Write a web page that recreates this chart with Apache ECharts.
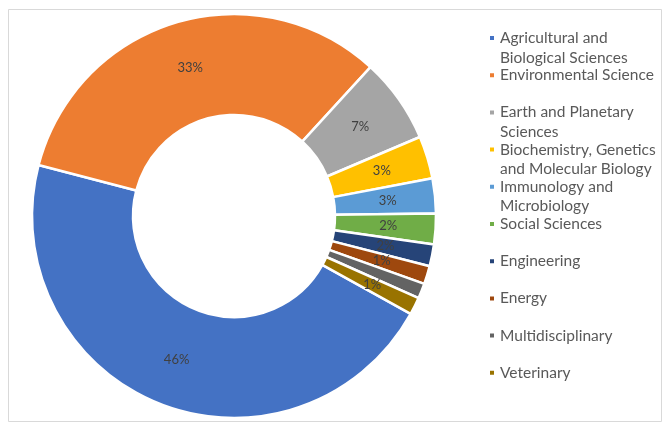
<!DOCTYPE html>
<html>
<head>
<meta charset="utf-8">
<script src="https://cdn.jsdelivr.net/npm/echarts@6/dist/echarts.min.js"></script>
<style>
  html, body { margin: 0; padding: 0; background: #ffffff; }
  #chart { width: 665px; height: 423px; }
</style>
</head>
<body>
<div id="chart"></div>
<script>
// Subject areas and their share of documents (%)
const categories = [
  'Agricultural and Biological Sciences',
  'Environmental Science',
  'Earth and Planetary Sciences',
  'Biochemistry, Genetics and Molecular Biology',
  'Immunology and Microbiology',
  'Social Sciences',
  'Engineering',
  'Energy',
  'Multidisciplinary',
  'Veterinary'
];
const shares = [46.0, 32.75, 6.8, 3.4, 2.8, 2.45, 1.75, 1.45, 1.2, 1.4];

// Legend text, broken into lines the way the legend shows it
const legendLines = [
  ['Agricultural and', 'Biological Sciences'],
  ['Environmental Science'],
  ['Earth and Planetary', 'Sciences'],
  ['Biochemistry, Genetics', 'and Molecular Biology'],
  ['Immunology and', 'Microbiology'],
  ['Social Sciences'],
  ['Engineering'],
  ['Energy'],
  ['Multidisciplinary'],
  ['Veterinary']
];

const palette = ['#4472C4', '#ED7D31', '#A5A5A5', '#FFC000', '#5B9BD5',
                 '#70AD47', '#264478', '#9E480E', '#636363', '#997300'];

const FONT = 'Lato, "Open Sans", sans-serif';
const LINE_H = 19.5;
const LEGEND_FIRST = 38;    // centre of first legend row
const LEGEND_STEP = 37.2;   // distance between legend rows

// One legend block per entry so every row sits on a fixed grid.
// Text is laid out as [blank, line1, line2] so the marker lines up with line1.
const legends = categories.map((name, i) => ({
  data: [name],
  orient: 'vertical',
  left: 488,
  top: LEGEND_FIRST + i * LEGEND_STEP - 1.5 * LINE_H,
  padding: 0,
  icon: 'rect',
  itemWidth: 6,
  itemHeight: 6,
  selectedMode: false,
  formatter: () => '\n' + legendLines[i][0] + '\n' + (legendLines[i][1] || ''),
  textStyle: {
    fontFamily: FONT,
    fontSize: 15.5,
    lineHeight: LINE_H,
    color: '#595959'
  }
}));

const chart = echarts.init(document.getElementById('chart'), null, { renderer: 'canvas' });

chart.setOption({
  animation: false,
  color: palette,
  backgroundColor: '#ffffff',
  graphic: [{
    type: 'rect',
    shape: { x: 8.5, y: 9.5, width: 653, height: 412 },
    style: { fill: 'none', stroke: '#d9d9d9', lineWidth: 1 },
    silent: true,
    z: -10
  }],
  legend: legends,
  series: [{
    type: 'pie',
    center: [234, 216],
    radius: [101, 202],
    startAngle: -29,
    clockwise: true,
    avoidLabelOverlap: false,
    emphasis: { disabled: true },
    itemStyle: { borderColor: '#ffffff', borderWidth: 2.5 },
    label: {
      show: true,
      position: 'inside',
      formatter: p => Math.round(p.value) + '%',
      fontFamily: FONT,
      fontSize: 13,
      color: '#404040'
    },
    labelLine: { show: false },
    data: categories.map((name, i) => ({ name, value: shares[i] }))
  }]
});
</script>
</body>
</html>
